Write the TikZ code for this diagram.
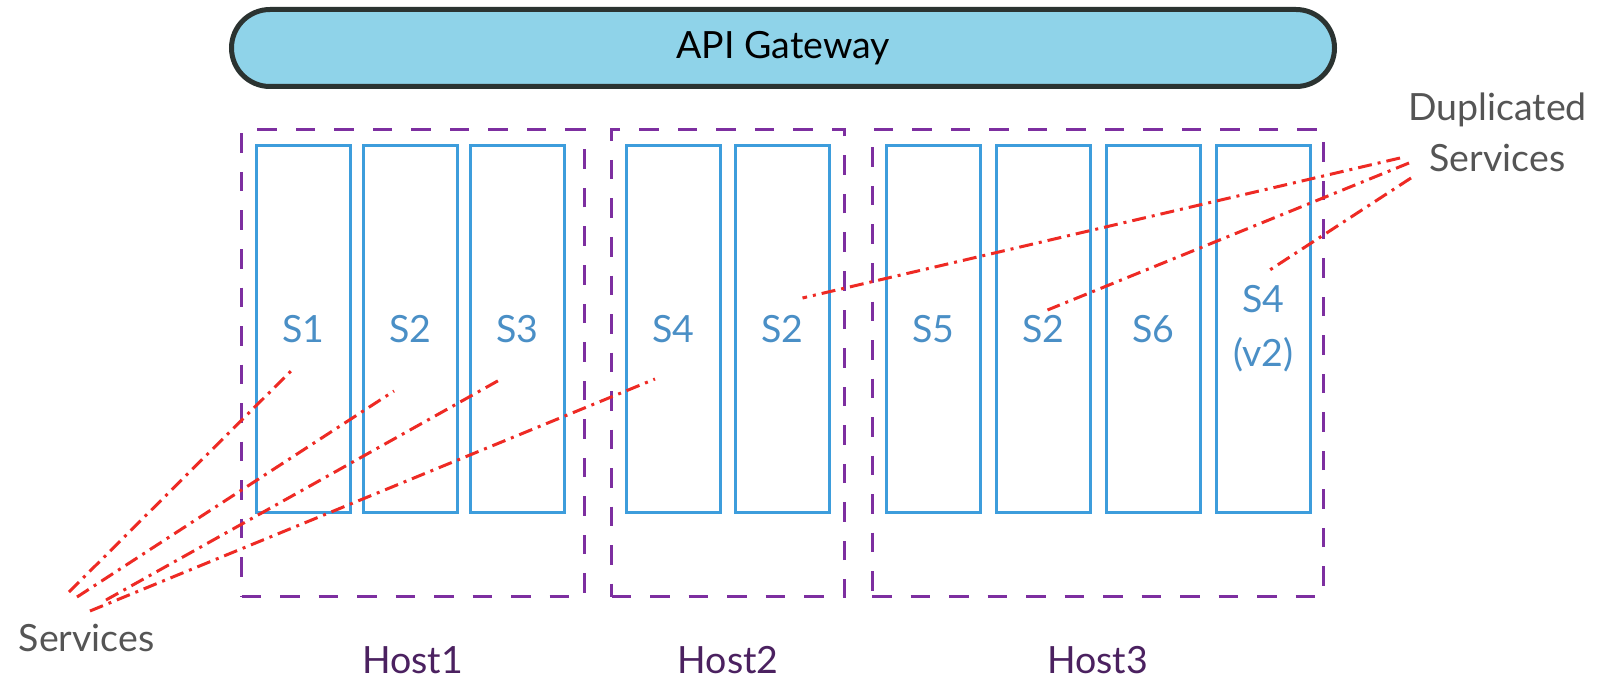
\documentclass[tikz,border=0pt]{standalone}
\usepackage{fontspec}
\setmainfont{Lato}
\definecolor{gwfill}{HTML}{8FD3E9}
\definecolor{gwdraw}{HTML}{2B3331}
\definecolor{hostc}{HTML}{7D2FA0}
\definecolor{svcc}{HTML}{3D9DDC}
\definecolor{svctext}{HTML}{4A8FC6}
\definecolor{hostlab}{HTML}{4B2160}
\definecolor{graylab}{HTML}{555555}
\definecolor{redc}{HTML}{EE2A24}
\tikzset{
 gw/.style={draw=gwdraw, fill=gwfill, line width=5pt, rounded corners=38.5pt, minimum width=1103pt, minimum height=77pt, inner sep=0pt, font=\fontsize{37.5}{45}\selectfont, text=black},
 hostbox/.style={draw=hostc, line width=3pt, dash pattern=on 19.5pt off 19pt, inner sep=0pt, minimum height=466.5pt},
 svcbox/.style={draw=svcc, line width=2.7pt, minimum width=94.3pt, minimum height=367.3pt, inner sep=0pt, text=svctext, font=\fontsize{37.5}{54}\selectfont, align=center},
 lab/.style={font=\fontsize{37.5}{51}\selectfont, inner sep=0pt, align=center},
 conn/.style={draw=redc, line width=3pt, dash pattern=on 14pt off 6pt on 3pt off 6pt},
}
\begin{document}
\begin{tikzpicture}[x=1pt,y=-1pt]
\useasboundingbox (0,0) rectangle (1601,679);
% gateway
\node[gw] (gw) at (783,48) {API Gateway};
% hosts
\node[hostbox, minimum width=342.5pt] (h1) at (412.75,363.25) {};
\node[hostbox, minimum width=233pt] (h2) at (728.2,363.25) {};
\node[hostbox, minimum width=451pt] (h3) at (1097.5,363.25) {};
% services
\node[svcbox] (s1b) at (303.5,329) {S1};
\node[svcbox] (s2b) at (410.5,329) {S2};
\node[svcbox] (s3b) at (517.5,329) {S3};
\node[svcbox] (s4b) at (673.5,329) {S4};
\node[svcbox] (s2hb) at (782.5,329) {S2};
\node[svcbox] (s5b) at (933.5,329) {S5};
\node[svcbox] (s2cb) at (1043.5,329) {S2};
\node[svcbox] (s6b) at (1153.5,329) {S6};
\node[svcbox] (s4vb) at (1263.5,329) {S4\\(v2)};
% labels
\node[lab, text=hostlab, anchor=base] (l1) at (412.75,673) {Host1};
\node[lab, text=hostlab, anchor=base] (l2) at (728.2,673) {Host2};
\node[lab, text=hostlab, anchor=base] (l3) at (1097.5,673) {Host3};
\node[lab, text=graylab, anchor=base] (svl) at (86.7,651.7) {Services};
\node[lab, text=graylab, anchor=base] (dup) at (1497.5,171.7) {Duplicated\\Services};
% connector coordinates
\coordinate (a1) at (69,592);
\coordinate (a2) at (77,597);
\coordinate (a3) at (106,600);
\coordinate (a4) at (90,611);
\coordinate (e1) at (292,370);
\coordinate (e2) at (394,391);
\coordinate (e3) at (503,378);
\coordinate (e4) at (655,379);
\coordinate (d1) at (1400,158);
\coordinate (d2) at (1409,163);
\coordinate (d3) at (1411,178);
\coordinate (f1) at (802.5,298);
\coordinate (f2) at (1047.5,310);
\coordinate (f3) at (1269,270.5);
\draw[conn] (a1) -- (e1);
\draw[conn] (a2) -- (e2);
\draw[conn] (a3) -- (e3);
\draw[conn] (a4) -- (e4);
\draw[conn] (d1) -- (f1);
\draw[conn] (d2) -- (f2);
\draw[conn] (d3) -- (f3);
\end{tikzpicture}
\end{document}
